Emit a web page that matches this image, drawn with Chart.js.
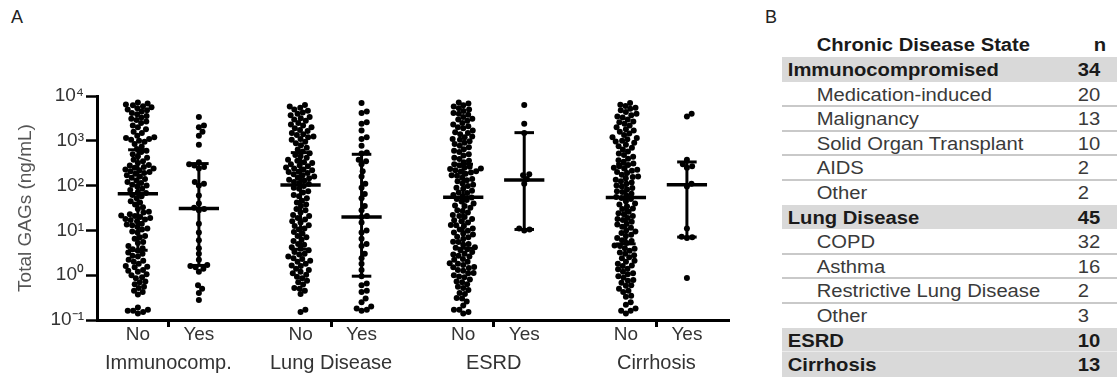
<!DOCTYPE html>
<html>
<head>
<meta charset="utf-8">
<script src="https://cdn.jsdelivr.net/npm/chart.js@4.4.1/dist/chart.umd.min.js"></script>
<style>
  body { margin: 0; width: 1117px; height: 379px; overflow: hidden; background: #fff; position: relative;
         font-family: "Liberation Sans", Arial, sans-serif; }
  .panel { position: absolute; font-size: 18px; line-height: 1; color: #222; }
  #chartBox { position: absolute; left: 0; top: 0; width: 760px; height: 379px; }
  #tbl { position: absolute; left: 782px; top: 33px; width: 300px; font-size: 17.5px;
         transform: scaleX(1.155); transform-origin: 0 0; }
  .row { position: relative; height: 24.6px; white-space: nowrap; color: #3a3a3a; }
  .row span { position: absolute; top: 1px; line-height: 24.6px; }
  .head { height: 24px; font-weight: bold; color: #1a1a1a; }
  .head span { top: 0; line-height: 24px; }
  .cat { background: #d9d9d9; font-weight: bold; color: #1a1a1a; }
  .lab0 { left: 5px; }
  .lab1 { left: 30px; }
  .num { left: 256px; }
  .head .num { left: 270px; }
  .sep::after { content: ''; position: absolute; left: 0; right: 0; bottom: -1px; height: 2px; background: #c9c9c9; }
  .sepLight::after { content: ''; position: absolute; left: 0; right: 0; bottom: -1px; height: 2px; background: #ebebeb; }
</style>
</head>
<body>
<div class="panel" style="left:11px;top:8px">A</div>
<div class="panel" style="left:765px;top:8px">B</div>
<div id="chartBox"><canvas id="myGraph"></canvas></div>
<div id="tbl"></div>

<script>
// values (ng/mL)
const groups = ['Immunocomp.', 'Lung Disease', 'ESRD', 'Cirrhosis'];
const subLabels = ['No', 'Yes'];

const immunoNo = [0.14, 0.15, 0.16, 0.16, 0.17, 0.19, 0.37, 0.42, 0.45, 0.52, 0.55, 0.63, 0.7, 0.72, 0.85, 0.9,
  1.0, 1.05, 1.2, 1.25, 1.3, 1.5, 1.55, 1.6, 1.8, 2.0, 2.1, 2.2, 2.6, 2.7, 3.0, 3.2, 3.5,
  3.8, 4.0, 4.5, 5.2, 5.5, 6.5, 7.0, 7.5, 9.0, 9.5,
  10.5, 11, 12, 13, 13.5, 14, 16, 17, 17.5, 18, 19, 20, 21, 21.5, 23, 25, 26, 30, 33, 38, 42, 45, 52, 58, 62,
  68, 72, 80, 85, 95, 100,
  105, 115, 120, 130, 140, 150, 160, 170, 185, 190, 200, 210, 220, 230, 240, 250, 260, 280, 290, 320, 350, 380, 420, 450, 500, 560, 600,
  660, 750, 850, 950,
  1000, 1050, 1100, 1150, 1200, 1300, 1500, 1600, 1800, 2000, 2200, 2500, 2700, 2900, 3100, 3300, 3600, 3900, 4200, 4500, 4800, 5000, 5300, 5600, 5900, 6200, 6500, 6800, 7200];
const immunoYes = [3400, 2200, 2000, 1600, 1300, 820, 330, 300, 280, 260, 240, 120, 110, 100, 60, 40, 32, 30, 28,
  14, 9, 6, 4, 3, 2.2, 1.7, 1.6, 1.5, 1.4, 1.2, 0.6, 0.5, 0.4, 0.28];

const lungNo = [0.15, 0.17, 0.38, 0.45, 0.5, 0.52, 0.62, 0.7, 0.75, 0.85, 0.92,
  1.02, 1.1, 1.2, 1.3, 1.4, 1.6, 1.65, 1.8, 2.0, 2.1, 2.3, 2.4, 2.6, 2.9, 3.0, 3.3, 3.6,
  3.9, 4.2, 4.8, 5.0, 5.8, 6.2, 7.0, 7.5, 8.5, 9.2,
  10.5, 11, 12.5, 13, 15, 16, 17.5, 19, 21, 22, 25, 28, 30, 35, 38, 42, 46, 52, 58, 62, 70, 75, 85, 90, 98,
  108, 115, 120, 130, 135, 145, 150, 160, 170, 180, 190, 200, 205, 220, 230, 240, 255, 270, 280, 300, 320, 330, 360, 380, 420, 450, 480, 530,
  580, 640, 700, 800, 880, 950,
  1050, 1100, 1200, 1250, 1350, 1400, 1500, 1650, 1750, 1900, 2000, 2200, 2300, 2500, 2800, 3000, 3200, 3400, 3700, 4000, 4300, 4700, 5000, 5500, 5800, 6300];
const lungYes = [7000, 4500, 4200, 2600, 2400, 1700, 1200, 1100, 780, 550, 520, 380, 350, 300, 210, 160, 110, 90, 65,
  52, 35, 28, 21, 20, 15, 10, 9, 6.5, 5, 4.5, 3, 2.4, 1.8, 1.3, 0.95, 0.65, 0.6, 0.45, 0.42, 0.3, 0.25, 0.2, 0.18, 0.17, 0.16];

const esrdNo = [0.14, 0.15, 0.17, 0.17, 0.21, 0.26, 0.3, 0.31, 0.38, 0.4, 0.47, 0.52, 0.55, 0.63, 0.7, 0.72, 0.8, 0.9, 0.93,
  1.0, 1.1, 1.12, 1.25, 1.3, 1.45, 1.5, 1.52, 1.7, 1.8, 1.85, 2.0, 2.2, 2.3, 2.6, 2.7, 2.9, 3.0, 3.3,
  3.6, 3.8, 4.1, 4.2, 4.8, 5.0, 5.5, 5.6, 6.4, 7.0, 7.2, 8.1, 8.5, 9.0, 9.8,
  10.5, 11, 12.5, 13, 13.2, 15, 16, 16.8, 18, 20, 21, 22, 25, 27, 28, 32, 35, 36, 40, 44, 48, 50,
  54, 58, 62, 68, 70, 77, 85, 90, 98, 105, 112, 125, 132, 140, 150, 165, 170, 185, 195, 205, 210, 220, 235, 240, 250, 265, 280, 300, 330, 360, 390,
  420, 470, 500, 560, 600, 650, 720, 780, 850, 900, 980,
  1050, 1100, 1200, 1250, 1400, 1500, 1550, 1700, 1900, 2000, 2100, 2300, 2500, 2800, 3000, 3100, 3400, 3800, 4000, 4200, 4600, 5000, 5300, 5800, 6200, 6800, 7200];
const esrdYes = [6300, 2400, 1500, 180, 170, 140, 110, 11, 10.5, 10];

const cirrNo = [0.14, 0.16, 0.16, 0.18, 0.22, 0.25, 0.33, 0.35, 0.42, 0.45, 0.5, 0.58, 0.6, 0.68, 0.75, 0.78, 0.88, 0.95,
  1.05, 1.1, 1.2, 1.35, 1.4, 1.6, 1.65, 1.8, 2.0, 2.1, 2.4, 2.5, 2.8, 3.0, 3.2,
  3.5, 3.9, 4.0, 4.5, 4.6, 5.2, 5.8, 6.0, 6.8, 7.5, 8.0, 8.8, 9.5,
  10, 11.5, 12, 13.5, 14, 15.5, 17, 18, 19, 21, 23, 24, 26, 30, 31, 34, 38, 40, 45, 50,
  53, 56, 60, 66, 72, 75, 82, 88, 95, 100, 110, 118, 125, 135, 145, 155, 160, 175, 190, 200, 215, 225, 240, 250, 270, 290, 310, 340, 370, 400,
  440, 480, 520, 580, 640, 700, 760, 820, 900, 960,
  1000, 1080, 1150, 1200, 1350, 1450, 1600, 1700, 1800, 2000, 2200, 2400, 2600, 2700, 3000, 3300, 3500, 3700, 4000, 4400, 4800, 5200, 5500, 6000, 6400, 7000];
const cirrYes = [4000, 3500, 380, 300, 270, 250, 110, 95, 11, 7.2, 7, 6.8, 0.87];

// median and interquartile range per column
const medians = [66, 31, 103, 20, 55, 133, 54, 105];
const q1 = [3.6, 1.65, 3.8, 0.95, 4, 10.5, 5, 7.1];
const q3 = [630, 310, 545, 500, 300, 1520, 300, 337];

const yTickValues = [0.1, 1, 10, 100, 1000, 10000];
const yTickLabels = ['10⁻¹', '10⁰', '10¹', '10²', '10³', '10⁴'];

// table (panel B)
const tableLabels = ['Immunocompromised', 'Medication-induced', 'Malignancy', 'Solid Organ Transplant', 'AIDS', 'Other',
  'Lung Disease', 'COPD', 'Asthma', 'Restrictive Lung Disease', 'Other', 'ESRD', 'Cirrhosis'];
const tableCounts = [34, 20, 13, 10, 2, 2, 45, 32, 16, 2, 3, 10, 13];
const tableLevels = [0, 1, 1, 1, 1, 1, 0, 1, 1, 1, 1, 0, 0];

const columns = [immunoNo, immunoYes, lungNo, lungYes, esrdNo, esrdYes, cirrNo, cirrYes];
// column layout on the x scale: pairs one unit apart, groups 8/3 apart
const colX = [0, 1, 8/3, 11/3, 16/3, 19/3, 8, 9];
const divX = [0.5, 0.5 + 8/3, 0.5 + 16/3, 8.5];
const X_MIN = -0.67, X_MAX = 9.69;

// spread points sideways so dots don't overlap (beeswarm)
const PX_UNIT = 61, PX_DEC = 44.7, DOT = 5.4;
function swarm(values, cx) {
  const placed = [];
  return values.slice().sort((a, b) => a - b).map(v => {
    const y = Math.log10(v) * PX_DEC;
    const cands = [0];
    placed.forEach(p => {
      const dy = Math.abs(p.y - y);
      if (dy < DOT) {
        const dx = Math.sqrt(DOT * DOT - dy * dy);
        cands.push(p.x + dx, p.x - dx);
      }
    });
    cands.sort((a, b) => Math.abs(a) - Math.abs(b));
    const x = cands.find(c => placed.every(p => (p.x - c) ** 2 + (p.y - y) ** 2 >= DOT * DOT - 0.01));
    placed.push({x: x, y: y});
    return {x: cx + x / PX_UNIT, y: v};
  });
}

function seg(x1, y1, x2, y2, w) {
  return {
    type: 'line', data: [{x: x1, y: y1}, {x: x2, y: y2}], showLine: true,
    borderColor: '#000', borderWidth: w, pointRadius: 0, borderCapStyle: 'butt', order: 0
  };
}

let datasets = [];
columns.forEach((vals, i) => {
  const c = colX[i];
  datasets.push(seg(c - 0.33, medians[i], c + 0.33, medians[i], 3.5));
  datasets.push(seg(c, q1[i], c, q3[i], 3));
  datasets.push(seg(c - 0.16, q1[i], c + 0.16, q1[i], 3));
  datasets.push(seg(c - 0.16, q3[i], c + 0.16, q3[i], 3));
  datasets.push({
    data: swarm(vals, c), pointRadius: 3, pointBackgroundColor: '#000',
    pointBorderWidth: 0, showLine: false, order: 1
  });
});

Chart.defaults.font.family = '"Liberation Sans", Arial, sans-serif';
Chart.defaults.color = '#333';

new Chart(document.getElementById('myGraph').getContext('2d'), {
  type: 'scatter',
  data: {datasets: datasets},
  options: {
    responsive: true,
    maintainAspectRatio: false,
    animation: false,
    layout: {padding: {top: 96, right: 31, left: 0, bottom: 0}},
    plugins: {legend: {display: false}, tooltip: {enabled: false}},
    scales: {
      x: {
        type: 'linear', min: X_MIN, max: X_MAX, weight: 0,
        afterBuildTicks: s => { s.ticks = colX.concat(divX).sort((a, b) => a - b).map(v => ({value: v})); },
        afterFit: s => { s.height = 22; },
        ticks: {
          autoSkip: false, maxRotation: 0, padding: -4, color: '#333', font: {size: 19},
          callback: v => { const k = colX.indexOf(v); return k < 0 ? '' : subLabels[k % 2]; }
        },
        grid: {
          drawOnChartArea: false, tickLength: 7, tickWidth: 3,
          tickColor: ctx => (ctx.tick && divX.indexOf(ctx.tick.value) >= 0) ? '#000' : 'rgba(0,0,0,0)'
        },
        border: {display: true, color: '#000', width: 3}
      },
      x2: {
        type: 'linear', position: 'bottom', min: X_MIN, max: X_MAX, weight: 1,
        afterBuildTicks: s => { s.ticks = divX.map(v => ({value: v})); },
        afterFit: s => { s.height = 37; },
        ticks: {
          autoSkip: false, maxRotation: 0, padding: 1, color: '#333', font: {size: 20},
          callback: v => groups[divX.indexOf(v)]
        },
        grid: {display: false},
        border: {display: false}
      },
      y: {
        type: 'logarithmic', min: 0.1, max: 10000,
        afterBuildTicks: s => { s.ticks = yTickValues.map(v => ({value: v})); },
        afterFit: s => { s.width = 97; },
        ticks: {
          padding: 2, color: '#333', font: {size: 19},
          callback: v => yTickLabels[yTickValues.indexOf(v)]
        },
        grid: {drawOnChartArea: false, tickLength: 11, tickWidth: 2.5, tickColor: '#000'},
        border: {display: true, color: '#000', width: 3},
        title: {display: true, text: 'Total GAGs (ng/mL)', color: '#555', font: {size: 19}, padding: {top: 14, bottom: 0}}
      }
    }
  }
});

// panel B table
let html = '<div class="row head"><span class="lab1">Chronic Disease State</span><span class="num">n</span></div>';
tableLabels.forEach((lab, i) => {
  const lvl = tableLevels[i];
  const next = tableLevels[i + 1];
  let cls = 'row' + (lvl === 0 ? ' cat' : '');
  if (lvl === 1 && next === 1) cls += ' sep';
  if (lvl === 0 && next === 0) cls += ' sepLight';
  html += '<div class="' + cls + '"><span class="lab' + lvl + '">' + lab + '</span><span class="num">' + tableCounts[i] + '</span></div>';
});
document.getElementById('tbl').innerHTML = html;
</script>
</body>
</html>
